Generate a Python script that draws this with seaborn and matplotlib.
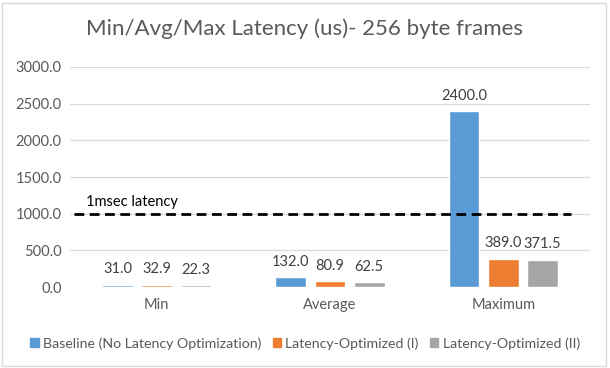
import seaborn as sns
import pandas as pd
import matplotlib.pyplot as plt
from matplotlib.patches import Rectangle

# datos
categorias = ["Min", "Average", "Maximum"]
series = ["Baseline (No Latency Optimization)", "Latency-Optimized (I)", "Latency-Optimized (II)"]
baseline = [31.0, 132.0, 2400.0]
optimized_1 = [32.9, 80.9, 389.0]
optimized_2 = [22.3, 62.5, 371.5]
umbral = 1000.0
y_ticks = [0, 500, 1000, 1500, 2000, 2500, 3000]

colores = ["#5B9BD5", "#ED7D31", "#A5A5A5"]
texto = "#595959"

filas = []
for s, valores in zip(series, [baseline, optimized_1, optimized_2]):
    for c, v in zip(categorias, valores):
        filas.append({"categoria": c, "serie": s, "valor": v})
df = pd.DataFrame(filas)

# tema y forma
sns.set_theme(style="white")
plt.rcParams["font.family"] = ["Lato", "DejaVu Sans"]
fig = plt.figure(figsize=(6.1, 3.68), dpi=100)
ax = fig.add_axes([0.115, 0.22, 0.852, 0.598])

sns.barplot(data=df, x="categoria", y="valor", hue="serie", order=categorias,
            hue_order=series, palette=colores, width=0.68, gap=0.22,
            saturation=1, ax=ax, legend=False)

# etiquetas de valor
for cont in ax.containers:
    ax.bar_label(cont, fmt="%.1f", padding=6, fontsize=10.5, color="#404040")

# linea de 1 msec
ax.axhline(umbral, xmin=0.007, xmax=0.963, color="black", linestyle=(0, (3.5, 2)), linewidth=2, zorder=3)
ax.text(-0.41, umbral + 60, "1msec latency", fontsize=10.5, color="black", va="bottom")

# ejes
ax.set_ylim(0, 3000)
ax.set_xlim(-0.5, 2.5)
ax.set_yticks(y_ticks)
ax.set_yticklabels([f"{t:.1f}" for t in y_ticks], fontsize=10.5, color=texto)
ax.tick_params(axis="x", labelsize=10.5, labelcolor=texto, pad=8, length=0)
ax.tick_params(axis="y", length=0, pad=6)
ax.yaxis.grid(True, color="#D9D9D9", linewidth=0.9)
ax.set_axisbelow(True)
ax.set_xlabel("")
ax.set_ylabel("")
sns.despine(ax=ax, left=True, bottom=True)

fig.suptitle("Min/Avg/Max Latency (us)- 256 byte frames", y=0.95, fontsize=16, color=texto)

# leyenda
handles = [Rectangle((0, 0), 1, 1, color=c) for c in colores]
fig.legend(handles, series, loc="lower center", bbox_to_anchor=(0.5, 0.015), ncol=3,
           frameon=False, fontsize=10.2, labelcolor=texto, handlelength=0.6, handleheight=0.6,
           handletextpad=0.3, columnspacing=0.8)

# borde del grafico
fig.patches.append(Rectangle((0.004, 0.006), 0.99, 0.985, transform=fig.transFigure,
                             fill=False, edgecolor="#D9D9D9", linewidth=1))

fig.savefig("out.png", dpi=100)
